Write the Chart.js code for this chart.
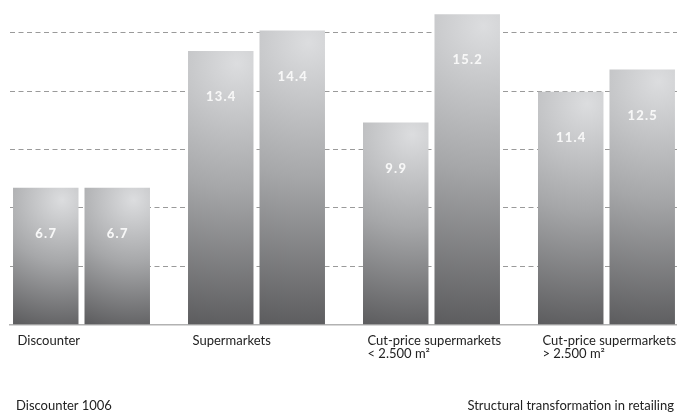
<!DOCTYPE html>
<html>
<head>
<meta charset="utf-8">
<script src="https://cdn.jsdelivr.net/npm/chart.js@4.4.1/dist/chart.umd.min.js"></script>
<style>
  html, body { margin: 0; padding: 0; background: #fff; overflow: hidden; }
  #wrap { position: relative; width: 677px; height: 412px; overflow: hidden; }
  .foot { position: absolute; top: 398px; font: 13px/15.6px Lato, 'Open Sans', sans-serif; color: #222; white-space: nowrap; }
</style>
</head>
<body>
<div id="wrap">
  <canvas id="retailChart" width="677" height="412"></canvas>
  <div class="foot" style="left:16px">Discounter 1006</div>
  <div class="foot" style="right:3px">Structural transformation in retailing</div>
</div>
<script>
const categories = [
  ['Discounter'],
  ['Supermarkets'],
  ['Cut-price supermarkets', '< 2.500 m²'],
  ['Cut-price supermarkets', '> 2.500 m²']
];
const seriesA = [6.7, 13.4, 9.9, 11.4];
const seriesB = [6.7, 14.4, 15.2, 12.5];
const gridStep = 20 / 7;
const yMax = 15.9;

const labelFont = "13px Lato, 'Open Sans', sans-serif";
const valueFont = "900 13px Lato, 'Open Sans', sans-serif";

// shaded grey fill, brightest near the top right corner of each bar
const shadeBars = {
  id: 'shadeBars',
  beforeDatasetsDraw(chart) {
    const c = chart.ctx;
    chart.data.datasets.forEach((ds, di) => {
      chart.getDatasetMeta(di).data.forEach(el => {
        const h = el.base - el.y;
        const cx = el.x + el.width * 0.25, cy = el.y + 12;
        const g = c.createRadialGradient(cx, cy, 0, cx, cy, h * 1.02);
        g.addColorStop(0, '#dcdddf');
        g.addColorStop(0.45, '#a6a7a9');
        g.addColorStop(1, '#555557');
        el.options = Object.assign({}, el.options, { backgroundColor: g });
      });
    });
  }
};

const barText = {
  id: 'barText',
  afterDatasetsDraw(chart) {
    const c = chart.ctx;
    c.save();
    c.font = valueFont;
    c.fillStyle = '#f7f7f7';
    c.textAlign = 'center';
    c.textBaseline = 'middle';
    if ('letterSpacing' in c) c.letterSpacing = '1.2px';
    chart.data.datasets.forEach((ds, di) => {
      chart.getDatasetMeta(di).data.forEach((el, i) => {
        c.fillText(ds.data[i].y.toFixed(1), el.x + 0.5, el.y + 46);
      });
    });
    c.restore();

    // category names under each group
    const x = chart.scales.x;
    const bottom = chart.chartArea.bottom;
    c.save();
    c.font = labelFont;
    c.fillStyle = '#222';
    c.textAlign = 'left';
    c.textBaseline = 'alphabetic';
    categories.forEach((lines, i) => {
      const left = x.getPixelForValue(i) - 64;
      lines.forEach((t, k) => c.fillText(t, left, bottom + 20.5 + k * 12.5));
    });
    c.restore();
  }
};

const toPoints = arr => arr.map((v, i) => ({ x: i, y: v }));

new Chart(document.getElementById('retailChart'), {
  type: 'bar',
  data: {
    datasets: [
      { label: 'A', data: toPoints(seriesA), backgroundColor: '#999', borderWidth: 0 },
      { label: 'B', data: toPoints(seriesB), backgroundColor: '#999', borderWidth: 0 }
    ]
  },
  options: {
    responsive: false,
    animation: false,
    categoryPercentage: 0.817,
    barPercentage: 0.916,
    layout: { padding: { left: 10, right: 0, top: 0, bottom: 87.5 } },
    scales: {
      x: {
        type: 'linear',
        offset: false,
        min: -0.4086,
        max: 3.403,
        grid: { display: false, drawTicks: false, offset: false },
        ticks: { display: false },
        border: { display: true, color: '#b2b2b2', width: 1.5 },
        afterBuildTicks: s => { s.ticks = categories.map((_, i) => ({ value: i })); }
      },
      y: {
        min: 0,
        max: yMax,
        ticks: { display: false, stepSize: gridStep },
        grid: { color: '#9a9a9a', lineWidth: 1, drawTicks: false },
        border: { display: false, dash: [5, 3.5] },
        afterBuildTicks: s => { s.ticks = s.ticks.filter(t => t.value > 0.1 && t.value < yMax - 0.5); }
      }
    },
    plugins: { legend: { display: false }, tooltip: { enabled: false } }
  },
  plugins: [shadeBars, barText]
});
</script>
</body>
</html>
